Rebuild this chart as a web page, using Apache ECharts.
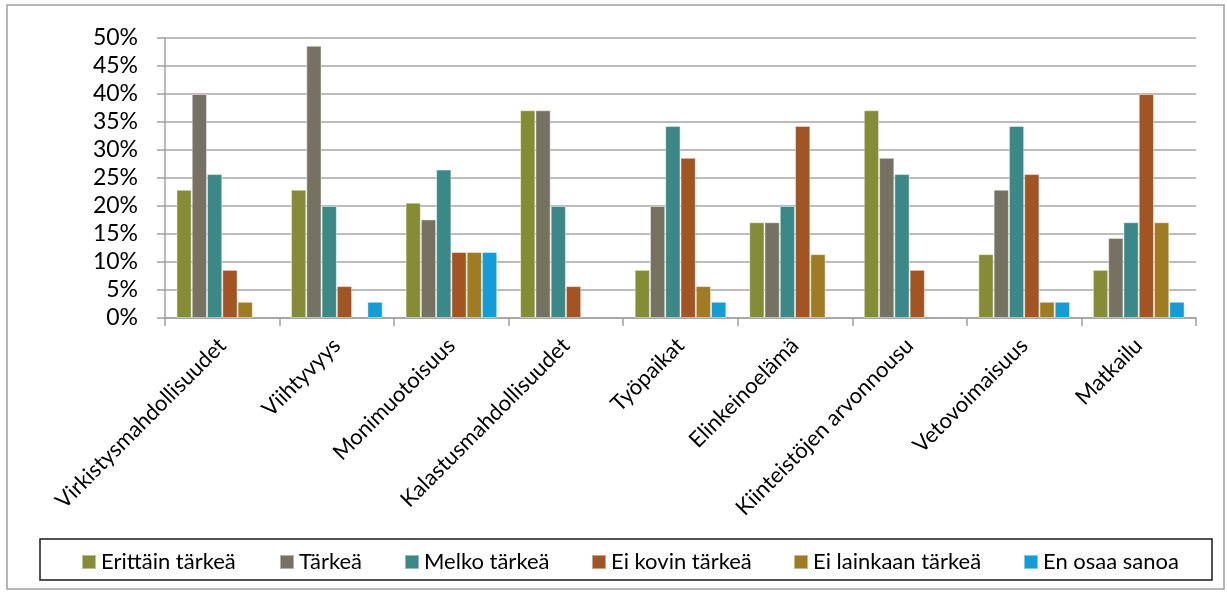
<!DOCTYPE html>
<html>
<head>
<meta charset="utf-8">
<script src="https://cdn.jsdelivr.net/npm/echarts@6/dist/echarts.min.js"></script>
<style>
html,body{margin:0;padding:0;background:#fff;}
#chart{width:1227px;height:593px;}
</style>
</head>
<body>
<div id="chart"></div>
<script>
var categories = ['Virkistysmahdollisuudet','Viihtyvyys','Monimuotoisuus','Kalastusmahdollisuudet','Työpaikat','Elinkeinoelämä','Kiinteistöjen arvonnousu','Vetovoimaisuus','Matkailu'];
var seriesNames = ['Erittäin tärkeä','Tärkeä','Melko tärkeä','Ei kovin tärkeä','Ei lainkaan tärkeä','En osaa sanoa'];
var erittainTarkea = [22.9, 22.9, 20.6, 37.1, 8.6, 17.1, 37.1, 11.4, 8.6];
var tarkea         = [40.0, 48.6, 17.6, 37.1, 20.0, 17.1, 28.6, 22.9, 14.3];
var melkoTarkea    = [25.7, 20.0, 26.5, 20.0, 34.3, 20.0, 25.7, 34.3, 17.1];
var eiKovinTarkea  = [8.6, 5.7, 11.8, 5.7, 28.6, 34.3, 8.6, 25.7, 40.0];
var eiLainkaan     = [2.9, 0, 11.8, 0, 5.7, 11.4, 0, 2.9, 17.1];
var enOsaaSanoa    = [0, 2.9, 11.8, 0, 2.9, 0, 0, 2.9, 2.9];
var yTicks = [0,5,10,15,20,25,30,35,40,45,50];

var colors = ['#848D36','#767262','#3A8888','#A25423','#9F7B24','#139CD6'];
var allData = [erittainTarkea, tarkea, melkoTarkea, eiKovinTarkea, eiLainkaan, enOsaaSanoa];
var FONT = 'Lato';

var chart = echarts.init(document.getElementById('chart'), null, {renderer:'canvas'});
var legendLefts = [81, 279, 404, 591, 793, 1023];
var legends = seriesNames.map(function(n,i){
  return {
    data:[n], left: legendLefts[i], top: 551, itemWidth:14, itemHeight:14, itemGap: 0,
    icon:'rect', padding:0,
    textStyle:{fontFamily:FONT, fontSize:22, color:'#000'}
  };
});
var series = seriesNames.map(function(n,i){
  return {
    name:n, type:'bar', data: allData[i].map(function(v){return v===0?null:v;}),
    barGap:'0%', barCategoryGap:'20%',
    itemStyle:{color:colors[i], borderColor:'rgba(255,255,255,0.45)', borderWidth:1},
    emphasis:{disabled:true}
  };
});
chart.setOption({
  animation:false,
  color: colors,
  grid:{left:165, right:31, top:38, bottom:275, containLabel:false},
  legend: legends,
  graphic:[
    {type:'rect', shape:{x:7, y:5, width:1217, height:584}, style:{fill:'none', stroke:'#A0A0A0', lineWidth:1.5}, silent:true},
    {type:'rect', shape:{x:40, y:539, width:1172, height:41}, style:{fill:'none', stroke:'#1a1a1a', lineWidth:1.5}, silent:true}
  ],
  xAxis:{
    type:'category', data:categories,
    axisLine:{lineStyle:{color:'#A0A0A0', width:1.5}},
    axisTick:{show:true, length:8, alignWithLabel:false, lineStyle:{color:'#A0A0A0', width:1.5}},
    axisLabel:{rotate:45, interval:0, margin:24, fontFamily:FONT, fontSize:22, color:'#000'}
  },
  yAxis:{
    type:'value', min:0, max:50, interval:5,
    axisLine:{show:true, lineStyle:{color:'#A0A0A0', width:1.5}},
    axisTick:{show:true, length:8, lineStyle:{color:'#A0A0A0', width:1.5}},
    splitLine:{lineStyle:{color:'#A6A6A6', width:1.5}},
    axisLabel:{margin:27, fontFamily:FONT, fontSize:23, color:'#000', formatter:function(v){return v+'%';}}
  },
  series: series
});
</script>
</body>
</html>
